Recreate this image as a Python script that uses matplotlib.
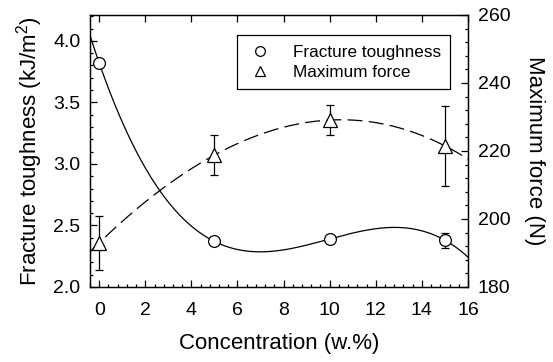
import numpy as np
import matplotlib
matplotlib.use("Agg")
import matplotlib.pyplot as plt
from matplotlib.ticker import MultipleLocator, FormatStrFormatter
from matplotlib.lines import Line2D

plt.rcParams['font.family'] = ['Liberation Sans', 'DejaVu Sans']
plt.rcParams['mathtext.fontset'] = 'custom'
plt.rcParams['mathtext.rm'] = 'Liberation Sans'

# Measured data
concentration = np.array([0, 5, 10, 15])
toughness = np.array([3.82, 2.37, 2.39, 2.38])
toughness_err = np.array([0.02, 0.02, 0.02, 0.06])
max_force = np.array([193.0, 218.8, 229.1, 221.5])
max_force_err = np.array([8.0, 6.0, 4.5, 11.7])

x_ticks = [0, 2, 4, 6, 8, 10, 12, 14, 16]

fig = plt.figure(figsize=(5.53, 3.62), dpi=100)
ax = fig.add_axes([0.1627, 0.2072, 0.6836, 0.7514])
ax2 = ax.twinx()

xlim = (-0.4, 16)
xs = np.linspace(xlim[0], xlim[1], 300)

# Cubic fits through the points
pt = np.polyfit(concentration, toughness, 3)
pf = np.polyfit(concentration, max_force, 3)

ax.plot(xs, np.polyval(pt, xs), color='black', lw=0.9)
ax.errorbar(concentration, toughness, yerr=toughness_err, fmt='o', ms=8.5,
            mfc='white', mec='black', mew=0.9, ecolor='black', elinewidth=0.9,
            capsize=3, capthick=0.9, zorder=3)

ax2.plot(xs, np.polyval(pf, xs), color='black', lw=0.9, dashes=(12, 5))
ax2.errorbar(concentration, max_force, yerr=max_force_err, fmt='^', ms=10,
             mfc='white', mec='black', mew=0.9, ecolor='black', elinewidth=0.9,
             capsize=3, capthick=0.9, zorder=3)

ax.set_xlim(*xlim)
ax.set_ylim(2.0, 4.21)
ax2.set_ylim(180, 260)

ax.set_xticks(x_ticks)
ax.xaxis.set_minor_locator(MultipleLocator(0.4))
ax.yaxis.set_major_locator(MultipleLocator(0.5))
ax.yaxis.set_minor_locator(MultipleLocator(0.1))
ax2.yaxis.set_major_locator(MultipleLocator(20))
ax2.yaxis.set_minor_locator(MultipleLocator(4))
ax.yaxis.set_major_formatter(FormatStrFormatter('%.1f'))

ax.tick_params(axis='x', which='major', direction='in', length=5, width=0.9,
               top=True, labelsize=14, pad=11)
ax.tick_params(axis='x', which='minor', direction='in', length=2.5, width=0.9,
               top=False)
ax.tick_params(axis='y', which='major', direction='in', length=5, width=0.9,
               right=False, labelsize=14, pad=7)
ax.tick_params(axis='y', which='minor', direction='in', length=2.5, width=0.9,
               right=False)
ax2.tick_params(axis='y', which='major', direction='in', length=5, width=0.9,
                labelsize=14, pad=7)
ax2.tick_params(axis='y', which='minor', direction='in', length=2.5, width=0.9)

for sp in ax.spines.values():
    sp.set_linewidth(0.9)
for sp in ax2.spines.values():
    sp.set_linewidth(0.9)

ax.set_xlabel('Concentration (w.%)', fontsize=16, labelpad=10)
ax.set_ylabel('Fracture toughness (kJ/m$^2$)', fontsize=16, labelpad=6)
ax2.set_ylabel('Maximum force (N)', fontsize=16, rotation=270, labelpad=25)

handles = [
    Line2D([], [], ls='none', marker='o', ms=7, mfc='white', mec='black', mew=0.9),
    Line2D([], [], ls='none', marker='^', ms=7.5, mfc='white', mec='black', mew=0.9),
]
leg = ax2.legend(handles, ['Fracture toughness', 'Maximum force'],
                 loc='upper left', bbox_to_anchor=(0.4286, 0.903),
                 bbox_transform=fig.transFigure, fontsize=12.3, fancybox=False,
                 framealpha=1, edgecolor='black', borderpad=0.55,
                 borderaxespad=0, handletextpad=1.1, labelspacing=0.3,
                 handlelength=1.6)
leg.get_frame().set_linewidth(0.9)

fig.savefig('out.png', dpi=100)
